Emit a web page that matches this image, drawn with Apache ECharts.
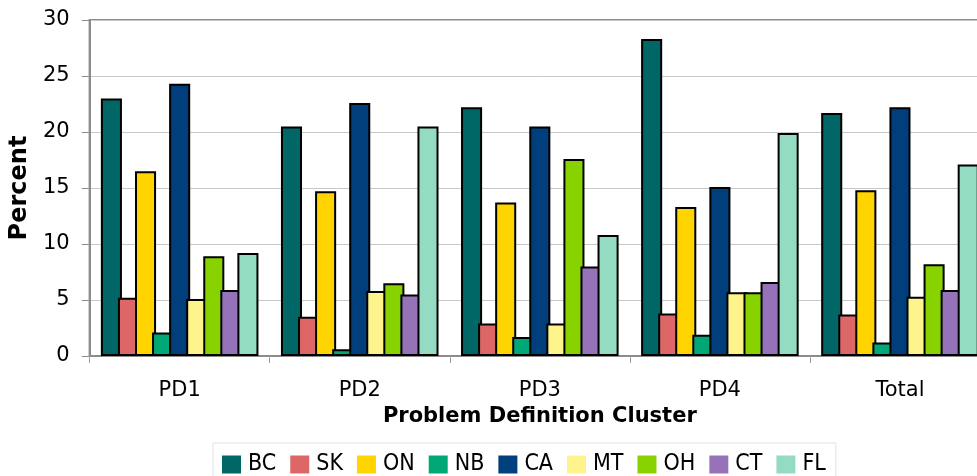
<!DOCTYPE html>
<html>
<head>
<meta charset="utf-8">
<script src="https://cdn.jsdelivr.net/npm/echarts@6/dist/echarts.min.js"></script>
<style>
  html, body { margin: 0; padding: 0; background: #fff; overflow: hidden; }
  /* the plot runs a little past the right edge of the window */
  #chart { width: 990px; height: 476px; }
</style>
</head>
<body>
<div id="chart"></div>
<script>
// Share of cases (percent) per problem definition cluster, by site
const clusters = ['PD1', 'PD2', 'PD3', 'PD4', 'Total'];
const yTicks = [0, 5, 10, 15, 20, 25, 30];

const BC = [23.0, 20.5, 22.2, 28.3, 21.7];
const SK = [5.2, 3.5, 2.9, 3.8, 3.7];
const ON = [16.5, 14.7, 13.7, 13.3, 14.8];
const NB = [2.1, 0.6, 1.7, 1.9, 1.2];
const CA = [24.3, 22.6, 20.5, 15.1, 22.2];
const MT = [5.1, 5.8, 2.9, 5.7, 5.3];
const OH = [8.9, 6.5, 17.6, 5.7, 8.2];
const CT = [5.9, 5.5, 8.0, 6.6, 5.9];
const FL = [9.2, 20.5, 10.8, 19.9, 17.1];

const sites = [
  { name: 'BC', data: BC, color: '#006666' },
  { name: 'SK', data: SK, color: '#DD6666' },
  { name: 'ON', data: ON, color: '#FFD400' },
  { name: 'NB', data: NB, color: '#00A878' },
  { name: 'CA', data: CA, color: '#003E7C' },
  { name: 'MT', data: MT, color: '#FFF48C' },
  { name: 'OH', data: OH, color: '#88D200' },
  { name: 'CT', data: CT, color: '#9673B9' },
  { name: 'FL', data: FL, color: '#93DBC1' }
];

const FONT = '"DejaVu Sans", Verdana, sans-serif';
const FONT_NARROW = '"DejaVu Sans Condensed", "Liberation Sans Narrow", "DejaVu Sans", sans-serif';
const chart = echarts.init(document.getElementById('chart'), null, { renderer: 'canvas' });

chart.setOption({
  animation: false,
  backgroundColor: '#ffffff',
  textStyle: { fontFamily: FONT, color: '#000' },
  grid: {
    left: 87, top: 20, right: 0, bottom: 120,
    show: true, borderColor: '#8c8c8c', borderWidth: 2, backgroundColor: 'transparent'
  },
  legend: {
    left: 213, top: 443,
    padding: [10, 10, 12, 9],
    borderColor: '#e2e2e2', borderWidth: 1,
    itemWidth: 19, itemHeight: 18, itemGap: 14,
    icon: 'rect',
    itemStyle: { borderWidth: 0 },
    textStyle: { fontFamily: FONT_NARROW, fontSize: 23, color: '#000', padding: [0, 0, 0, 2] },
    data: sites.map(s => s.name)
  },
  xAxis: {
    type: 'category',
    data: clusters,
    name: 'Problem Definition Cluster',
    nameLocation: 'middle',
    nameGap: 46,
    nameTextStyle: { fontFamily: FONT, fontSize: 21, fontWeight: 'bold', color: '#000', verticalAlign: 'top' },
    axisLine: { lineStyle: { color: '#8c8c8c', width: 2 } },
    axisTick: { show: true, alignWithLabel: false, length: 7, lineStyle: { color: '#a0a0a0', width: 1 } },
    axisLabel: { fontFamily: FONT, fontSize: 21, color: '#000', margin: 24 },
    splitLine: { show: false }
  },
  yAxis: {
    type: 'value',
    min: yTicks[0], max: yTicks[yTicks.length - 1], interval: 5,
    name: 'Percent',
    nameLocation: 'middle',
    nameGap: 52,
    nameRotate: 90,
    nameTextStyle: { fontFamily: FONT, fontSize: 24, fontWeight: 'bold', color: '#000' },
    axisLine: { show: true, lineStyle: { color: '#8c8c8c', width: 2 } },
    axisTick: { show: true, length: 8, lineStyle: { color: '#8c8c8c', width: 1 } },
    axisLabel: { fontFamily: FONT, fontSize: 21, color: '#000', margin: 20 },
    splitLine: { show: true, lineStyle: { color: '#c8c8c8', width: 1 } }
  },
  series: sites.map(s => ({
    name: s.name,
    type: 'bar',
    data: s.data,
    // neighbouring bars overlap so they share a single outline
    barGap: '-19%',
    barCategoryGap: '12.5%',
    itemStyle: { color: s.color, borderColor: '#000', borderWidth: 2 }
  }))
});
</script>
</body>
</html>
